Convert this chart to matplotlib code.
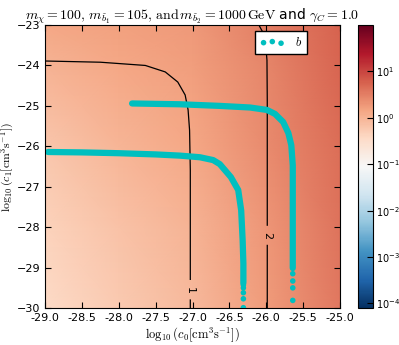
import numpy as np
import matplotlib
matplotlib.use('Agg')
import matplotlib.pyplot as plt
from matplotlib.colors import LogNorm

plt.rcParams['mathtext.fontset'] = 'cm'

# background field, log10 of value, on a coarse grid
grid_x = [-29.0, -28.0, -27.0, -26.0, -25.0]
grid_y = [-30.0, -28.0, -26.0, -24.0, -23.0]
log_field = [
    [-0.45, -0.25, -0.05, 0.25, 0.55],
    [-0.35, -0.15, 0.02, 0.30, 0.60],
    [-0.20, -0.02, 0.12, 0.38, 0.65],
    [0.00, 0.12, 0.22, 0.45, 0.72],
    [0.12, 0.20, 0.28, 0.50, 0.75],
]

# contour lines (level 1 and 2), NaN marks the gap for the label
c1_x = [-29.0, -28.25, -27.64, -27.37, -27.20, -27.10, -27.06, -27.04, -27.03, -27.03, np.nan, -27.03, -27.03]
c1_y = [-23.89, -23.92, -24.00, -24.16, -24.41, -24.73, -25.10, -25.60, -26.59, -29.29, np.nan, -29.80, -30.0]
c2_x = [-26.10, -26.04, -26.01, -25.99, -25.986, -25.986, np.nan, -25.986, -25.986]
c2_y = [-23.0, -23.20, -23.42, -23.87, -24.86, -27.95, np.nan, -28.45, -30.0]
labels_c = ['1', '2']
label_x = [-27.03, -25.986]
label_y = [-29.56, -28.2]

# series b: dense part of the two branches
bA_x = [-28.96, -28.5, -28.0, -27.5, -27.17, -26.90, -26.72, -26.63, -26.48, -26.38, -26.34, -26.32, -26.31, -26.31]
bA_y = [-26.14, -26.15, -26.17, -26.20, -26.23, -26.27, -26.34, -26.44, -26.76, -27.08, -27.58, -28.32, -28.9, -29.37]
bB_x = [-27.82, -27.17, -26.63, -26.22, -25.99, -25.88, -25.77, -25.70, -25.66, -25.64, -25.64]
bB_y = [-24.94, -24.96, -25.00, -25.04, -25.10, -25.20, -25.40, -25.67, -25.97, -26.47, -29.01]
# sparse points at the lower ends
bs_x = [-26.31, -26.31, -26.31, -26.31, -26.31, -26.31, -25.64, -25.64, -25.64, -25.64]
bs_y = [-29.43, -29.50, -29.62, -29.77, -29.99, -29.40, -29.15, -29.33, -29.50, -29.81]

cyan = (0.0, 0.75, 0.75)

fig = plt.figure(figsize=(3.99, 3.45), dpi=100)
ax = fig.add_axes([0.113, 0.107, 0.739, 0.8205])
cax = fig.add_axes([0.897, 0.107, 0.0376, 0.8205])

X, Y = np.meshgrid(grid_x, grid_y)
Z = 10 ** np.array(log_field)
norm = LogNorm(vmin=10 ** -4.1, vmax=10 ** 2.0)
mesh = ax.pcolormesh(X, Y, Z, cmap='RdBu_r', norm=norm, shading='gouraud')

ax.plot(c1_x, c1_y, color='k', lw=0.9)
ax.plot(c2_x, c2_y, color='k', lw=0.9)
for t, lx, ly in zip(labels_c, label_x, label_y):
    ax.text(lx, ly, t, rotation=-90, fontsize=8, ha='center', va='center')

ax.plot(bA_x, bA_y, color=cyan, lw=4.5, solid_capstyle='round')
ax.plot(bB_x, bB_y, color=cyan, lw=4.5, solid_capstyle='round')
ax.scatter(bs_x, bs_y, s=16, color=cyan, edgecolors='none', label='$b$', zorder=3)

ax.set_xlim(-29, -25)
ax.set_ylim(-30, -23)
ax.set_xticks(np.arange(-29, -24.9, 0.5))
ax.set_xticklabels(['%.1f' % v for v in np.arange(-29, -24.9, 0.5)])
ax.tick_params(direction='in', top=True, right=True, labelsize=8, length=4)
ax.set_xlabel(r'$\log_{10}(c_0[\mathrm{cm}^3\mathrm{s}^{-1}])$', fontsize=9, labelpad=2)
ax.set_ylabel(r'$\log_{10}(c_1[\mathrm{cm}^3\mathrm{s}^{-1}])$', fontsize=8.5)
ax.yaxis.set_label_coords(-0.097, 0.5)
ax.set_title(r'$m_\chi=100,\, m_{\tilde{b}_1}=105,\,\mathrm{and}\, m_{\tilde{b}_2}=1000\,\mathrm{GeV}$ and $\gamma_C=1.0$',
             fontsize=10, pad=4)

leg = ax.legend(loc='upper right', bbox_to_anchor=(0.888, 0.979), borderaxespad=0,
                scatterpoints=3, fancybox=False, framealpha=1, fontsize=9)
leg.get_frame().set_edgecolor('k')

cbar = fig.colorbar(mesh, cax=cax)
cbar.minorticks_off()
cbar.set_ticks([1e-4, 1e-3, 1e-2, 1e-1, 1e0, 1e1])
cbar.ax.tick_params(direction='in', labelsize=7, length=4, pad=2)

fig.savefig('out.png', dpi=100)
